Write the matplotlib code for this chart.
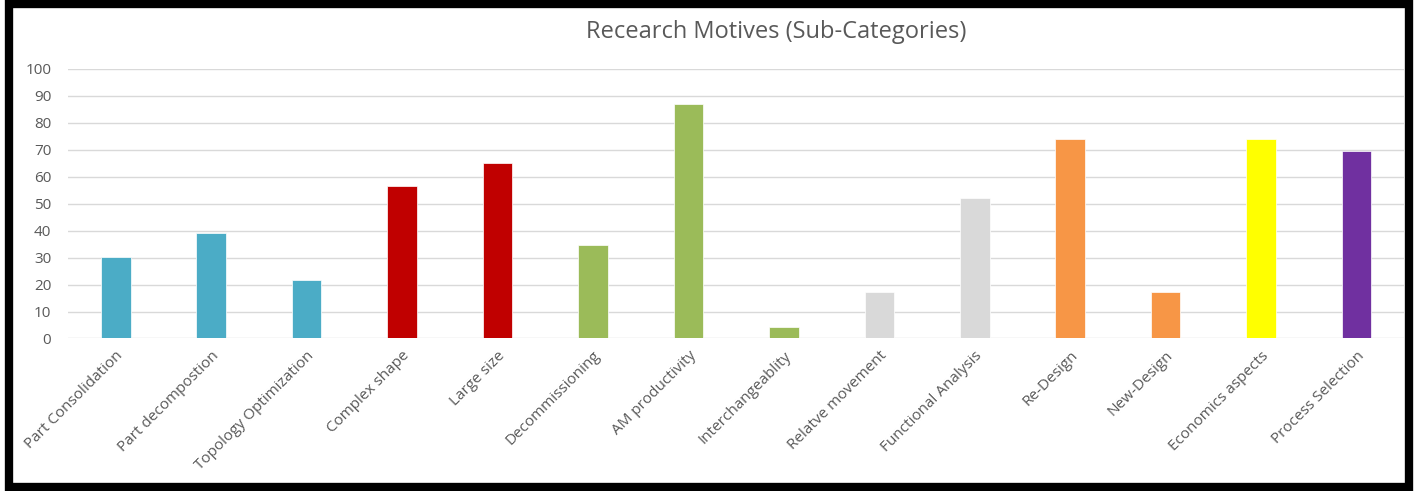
import matplotlib.pyplot as plt
from matplotlib.patches import Rectangle

categories = ['Part Consolidation', 'Part decompostion', 'Topology Optimization',
              'Complex shape', 'Large size', 'Decommissioning', 'AM productivity',
              'Interchangeablity', 'Relatve movement', 'Functional Analysis',
              'Re-Design', 'New-Design', 'Economics aspects', 'Process Selection']
values = [30.4, 39.1, 21.7, 56.5, 65.2, 34.8, 87.0, 4.3, 17.4, 52.2, 73.9, 17.4, 73.9, 69.6]
colors = ['#4BACC6', '#4BACC6', '#4BACC6', '#C00000', '#C00000', '#9BBB59', '#9BBB59',
          '#9BBB59', '#D9D9D9', '#D9D9D9', '#F79646', '#F79646', '#FFFF00', '#7030A0']
yticks = list(range(0, 101, 10))

plt.rcParams['font.family'] = ['Open Sans', 'DejaVu Sans']
text_color = '#595959'

fig = plt.figure(figsize=(14.17, 4.91), dpi=100)
ax = fig.add_axes([0.048, 0.3106, 0.943, 0.549])

x = list(range(len(categories)))
ax.bar(x, values, width=0.31, color=colors, edgecolor='white', linewidth=0.5, zorder=3)

ax.set_xlim(-0.5, len(categories) - 0.5)
ax.set_ylim(0, 100)
ax.set_yticks(yticks)
ax.set_xticks(x)
ax.set_xticklabels(categories, rotation=45, ha='right', rotation_mode='anchor',
                   fontsize=11, color=text_color)
ax.tick_params(axis='y', length=0, pad=12, labelsize=11, labelcolor=text_color)
ax.tick_params(axis='x', length=0, pad=7)
ax.grid(axis='y', color='#D9D9D9', linewidth=1.0, zorder=0)
for s in ax.spines.values():
    s.set_visible(False)

fig.text(0.548, 0.935, 'Recearch Motives (Sub-Categories)', fontsize=17,
         color=text_color, ha='center', va='center')

# black frame around the picture
fig.patches.append(Rectangle((9 / 1417, 4 / 491), 1400 / 1417, 483 / 491,
                             transform=fig.transFigure, fill=False,
                             edgecolor='black', linewidth=6, zorder=10))

fig.savefig('out.png', dpi=100)
